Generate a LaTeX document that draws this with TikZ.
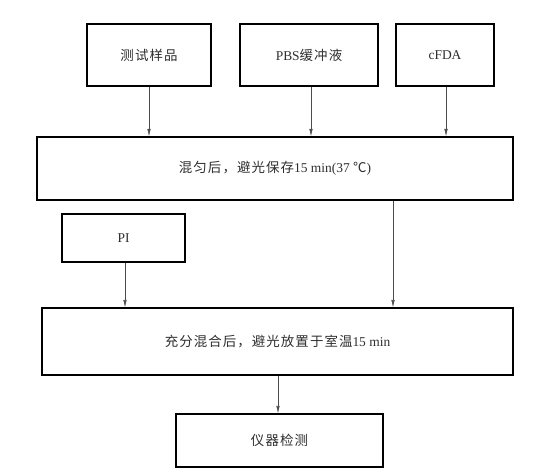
\documentclass[tikz,border=0pt]{standalone}
\usepackage{fontspec}
\setmainfont{Liberation Serif}
\newfontfamily\cjk[LetterSpace=8]{Noto Sans CJK SC}
\usetikzlibrary{arrows.meta}
\tikzset{
  box/.style={draw=black, line width=1.1bp, inner sep=0pt, font=\fontsize{13.5}{15}\selectfont, text=black!82},
  conn/.style={draw=black!70, line width=0.6bp, -{Latex[length=7.5bp,width=3.5bp]}}
}
\begin{document}
\begin{tikzpicture}[x=1bp,y=-1bp]
\useasboundingbox (0,0) rectangle (540,475);
\node[box, minimum width=124bp, minimum height=62bp] (s1) at (149,55) {\cjk 测试样品};
\node[box, minimum width=138bp, minimum height=62bp] (s2) at (309,55) {PBS{\cjk 缓冲液}};
\node[box, minimum width=98bp, minimum height=62bp] (s3) at (445,55) {cFDA};
\node[box, minimum width=476bp, minimum height=63bp] (m1) at (275,168.5) {{\cjk 混匀后，避光保存}15 min(37 {\cjk ℃})};
\node[box, minimum width=123bp, minimum height=48bp] (pi) at (123.5,238) {PI};
\node[box, minimum width=471bp, minimum height=67bp] (m2) at (277.5,341.5) {{\cjk 充分混合后，避光放置于室温}15 min};
\node[box, minimum width=207bp, minimum height=53bp] (d) at (279.5,440.5) {\cjk 仪器检测};
\draw[conn] (s1.south) -- (s1.south |- m1.north);
\draw[conn] ([xshift=2bp]s2.south) -- ([xshift=2bp]s2.south |- m1.north);
\draw[conn] ([xshift=1bp]s3.south) -- ([xshift=1bp]s3.south |- m1.north);
\draw[conn] ([xshift=118bp]m1.south) -- ([xshift=118bp]m1.south |- m2.north);
\draw[conn] ([xshift=1.5bp]pi.south) -- ([xshift=1.5bp]pi.south |- m2.north);
\draw[conn] ([xshift=0.5bp]m2.south) -- ([xshift=0.5bp]m2.south |- d.north);
\end{tikzpicture}
\end{document}
